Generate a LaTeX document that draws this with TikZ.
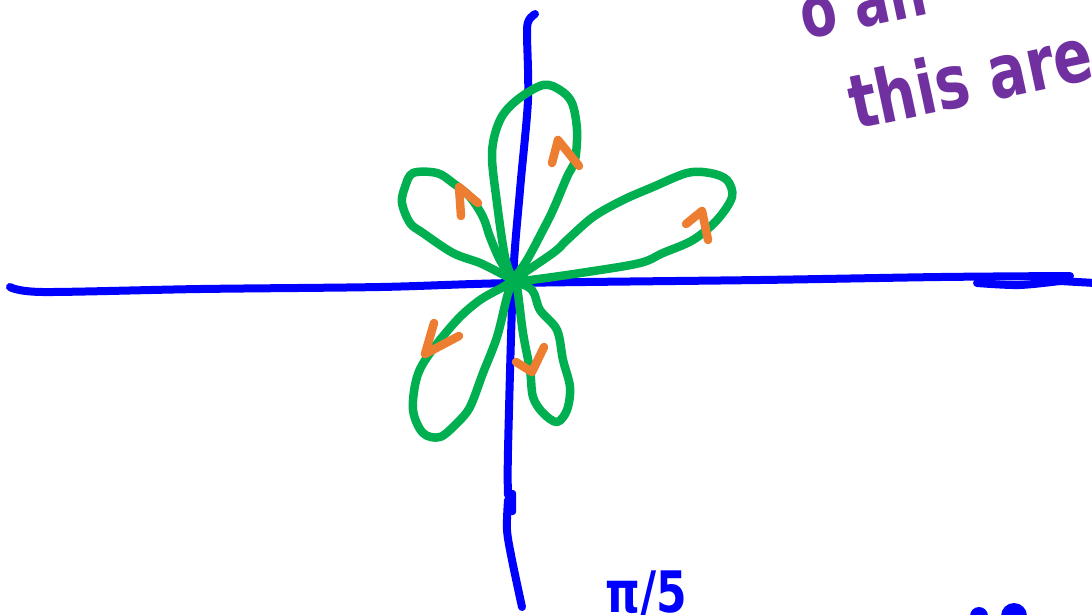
\documentclass[tikz,border=0pt]{standalone}
\usepackage{fontspec}
\newfontfamily\handfont{DejaVu Sans}
\definecolor{axisblue}{HTML}{0000FF}
\definecolor{rosegreen}{HTML}{00B050}
\definecolor{arroworange}{HTML}{ED7D31}
\definecolor{notepurple}{HTML}{7030A0}
\tikzset{
  axisline/.style={draw=axisblue, line width=8pt, line cap=round, line join=round},
  petal/.style={draw=rosegreen, line width=8.5pt, line cap=round, line join=round},
  tick/.style={draw=arroworange, line width=8.5pt, line cap=round, line join=round},
  note/.style={text=notepurple, font=\handfont\bfseries\fontsize{62}{62}\selectfont, inner sep=0pt},
  bluenote/.style={text=axisblue, font=\handfont\bfseries\fontsize{44}{44}\selectfont, inner sep=0pt}
}
\begin{document}
\begin{tikzpicture}[x=1pt,y=-1pt]
\useasboundingbox (0,0) rectangle (1092,614);
\fill[white] (0,0) rectangle (1092,614);
\clip (0,0) rectangle (1092,614);
% axes
\draw[axisline] plot[smooth] coordinates {(10,287) (43,292) (200,289) (380,287) (513,283) (760,280) (940,277) (1070,276)};
\draw[axisline] plot[smooth] coordinates {(1068,280) (1020,285) (977,283)};
\draw[axisline] (1060,281) -- (1095,283);
\draw[axisline] plot[smooth] coordinates {(535,14) (529,20) (527,33) (528,100) (520,190) (513,280) (508,450) (508,495)};
\draw[axisline] plot[smooth] coordinates {(508,500) (507,530) (512,560) (522,607)};
\fill[axisblue, rounded corners=3pt] (505,490) rectangle (516,515);
% rose petals
\coordinate (o) at (513,280);
\draw[petal] plot[smooth, tension=0.55] coordinates {(o) (505,257) (497,203) (492,153) (500,120) (517,100) (543,85) (560,90) (572,103) (577,130) (575,160) (567,177) (553,210) (543,230) (527,260) (o)};
\draw[petal] plot[smooth, tension=0.55] coordinates {(o) (530,280) (587,272) (640,263) (663,253) (693,240) (717,220) (732,197) (727,180) (710,173) (687,173) (653,187) (623,200) (593,217) (567,240) (553,253) (o)};
\draw[petal] plot[smooth, tension=0.55] coordinates {(o) (500,273) (480,263) (453,253) (423,233) (410,223) (402,203) (405,187) (413,173) (437,173) (453,183) (470,197) (483,217) (490,237) (500,260) (o)};
\draw[petal] plot[smooth, tension=0.55] coordinates {(o) (503,287) (480,300) (457,320) (430,353) (417,377) (413,410) (423,433) (440,437) (457,423) (470,407) (483,373) (497,337) (507,297) (o)};
\draw[petal] plot[smooth, tension=0.55] coordinates {(o) (517,287) (523,333) (530,370) (533,397) (543,413) (557,422) (567,410) (570,387) (563,360) (557,330) (540,310) (532,290) (o)};
% orange direction ticks
\draw[tick] (552,163) -- (558,140) -- (579,166);
\draw[tick] (461,216) -- (459,187) -- (478,203);
\draw[tick] (686,224) -- (702,211) -- (708,240);
\draw[tick] (434,323) -- (425,354) -- (459,336);
\draw[tick] (516,362) -- (532,372) -- (544,347);
% notes
\node[note, anchor=base west, rotate=12] (top) at (805,40) {\scalebox{0.85}[1.15]{o an}};
\node[note, anchor=base west, rotate=12] (this) at (855,130) {\scalebox{0.92}[1.2]{this are}};
\node[bluenote, anchor=base west] (pi) at (605,612) {\scalebox{1}[1.3]{π/5}};
\fill[axisblue] (979,616) circle (9);
\fill[axisblue] (1014,616) circle (13);
\end{tikzpicture}
\end{document}
